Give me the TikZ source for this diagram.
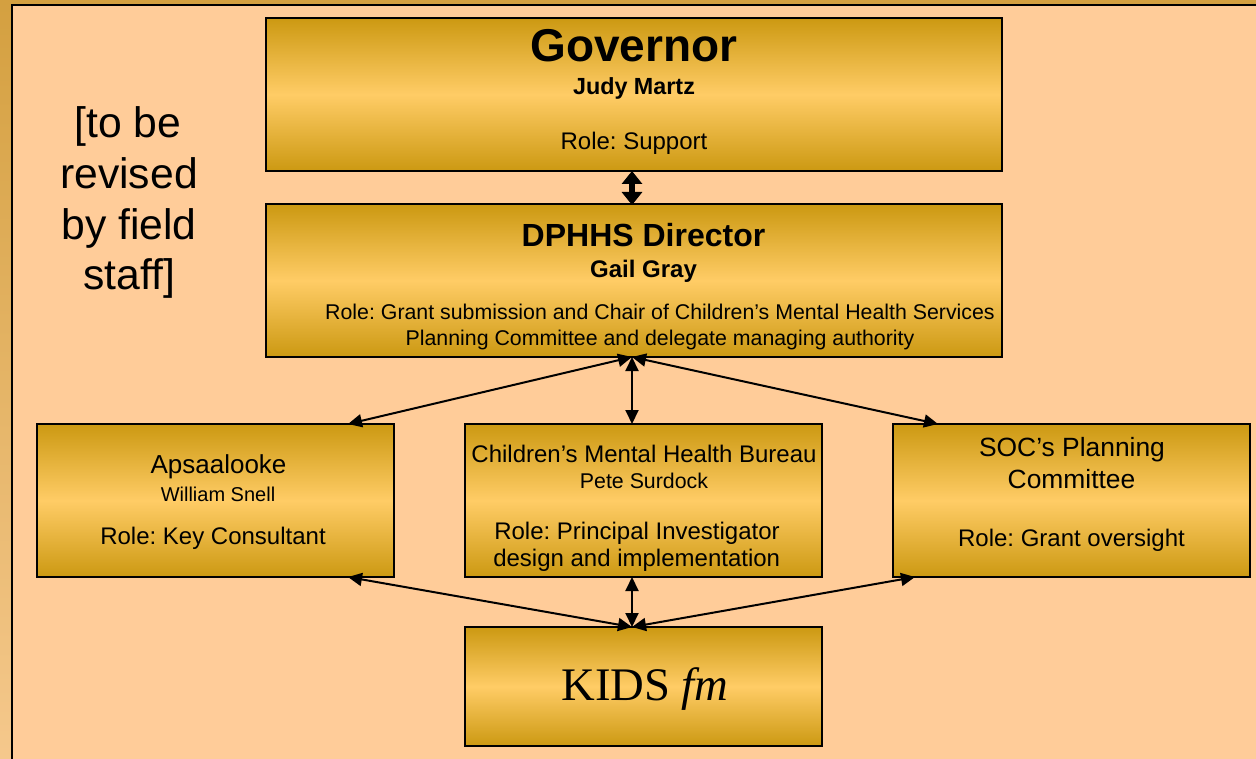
\documentclass[tikz,border=0pt]{standalone}
\usepackage{fontspec}
\setmainfont{Liberation Sans}
\newfontfamily\timesf{Liberation Serif}
\usetikzlibrary{arrows.meta}
\frenchspacing
\definecolor{bgpeach}{HTML}{FFCC99}
\definecolor{bandgold}{HTML}{D4A040}
\definecolor{bandlight}{HTML}{F5C88C}
\definecolor{golddark}{HTML}{CC9912}
\definecolor{goldlight}{HTML}{FFCC66}
\def\px{*0.75pt}
\newcommand{\fsz}[1]{\fontsize{#1}{#1}\selectfont}
\tikzset{
  box/.style={draw=black, line width=2\px, top color=golddark, bottom color=golddark, middle color=goldlight, inner sep=0pt, rectangle},
  txt/.style={anchor=base, inner sep=0pt, text=black},
  link/.style={line width=2\px, {Triangle[length=14\px,width=13\px]}-{Triangle[length=14\px,width=13\px]}},
  biglink/.style={line width=6\px, {Triangle[length=13\px,width=20\px]}-{Triangle[length=13\px,width=20\px]}}
}
\begin{document}
\frenchspacing
\begin{tikzpicture}[x=0.75pt,y=-0.75pt]
\useasboundingbox (0,0) rectangle (1256,759);
% background and frame
\fill[bgpeach] (0,0) rectangle (1256,759);
\shade[top color=bandgold, bottom color=bandlight] (0,0) rectangle (11,759);
\fill[bandgold] (0,0) rectangle (1256,5);
\draw[line width=2\px] (11.5,759) -- (11.5,5) -- (1256,5);

% boxes
\node[box, minimum width=736\px, minimum height=153\px] (gov) at (634,94.5) {};
\node[box, minimum width=736\px, minimum height=152\px] (dir) at (634,280.5) {};
\node[box, minimum width=357\px, minimum height=153\px] (aps) at (215.5,500.5) {};
\node[box, minimum width=357\px, minimum height=153\px] (cmh) at (643.5,500.5) {};
\node[box, minimum width=357\px, minimum height=153\px] (soc) at (1071,500.5) {};
\node[box, minimum width=357\px, minimum height=119\px] (kids) at (643.5,686.5) {};

% texts
\node[txt, font=\bfseries\fsz{34.5}] (t1) at (634,62) {Governor};
\node[txt, font=\bfseries\fsz{17.5}] (t2) at (634,95) {Judy Martz};
\node[txt, font=\fsz{18}] (t3) at (634,150) {Role: Support};

\node[txt, font=\bfseries\fsz{24}] (t4) at (643.5,247) {DPHHS Director};
\node[txt, font=\bfseries\fsz{18}] (t5) at (643.5,277) {Gail Gray};
\node[txt, font=\fsz{16}] (t6) at (660,320) {Role: Grant submission and Chair of Children’s Mental Health Services};
\node[txt, font=\fsz{16}] (t7) at (660,345) {Planning Committee and delegate managing authority};

\node[txt, font=\fsz{32}] (l1) at (128,138) {[to be};
\node[txt, font=\fsz{32}] (l2) at (129,189) {revised};
\node[txt, font=\fsz{32}] (l3) at (129,240) {by field};
\node[txt, font=\fsz{32}] (l4) at (129,290) {staff]};

\node[txt, font=\fsz{19.5}] (a1) at (218.5,473) {Apsaalooke};
\node[txt, font=\fsz{15}] (a2) at (218,501) {William Snell};
\node[txt, font=\fsz{18}] (a3) at (213,544) {Role: Key Consultant};

\node[txt, font=\fsz{18}] (c1) at (644,462) {Children’s Mental Health Bureau};
\node[txt, font=\fsz{16}] (c2) at (644,488) {Pete Surdock};
\node[txt, anchor=base west, font=\fsz{18}] (c3) at (494,539) {Role: Principal Investigator};
\node[txt, anchor=base west, font=\fsz{18}] (c4) at (493,566) {design and implementation};

\node[txt, font=\fsz{19.8}] (s1) at (1072,456) {SOC’s Planning};
\node[txt, font=\fsz{19.8}] (s2) at (1071.5,488) {Committee};
\node[txt, font=\fsz{18}] (s3) at (1071.5,546) {Role: Grant oversight};

\node[txt, font=\timesf\fsz{35}] (k1) at (645,700) {KIDS \textit{fm}};

% connector end points
\coordinate (dirS) at (632,357);
\coordinate (govS) at (632,171);
\coordinate (dirN) at (632,205);
\coordinate (apsNE) at (348,424);
\coordinate (socNW) at (938,424);
\coordinate (cmhN) at (632,424);
\coordinate (cmhS) at (632,577);
\coordinate (apsSE) at (348,577);
\coordinate (socSW) at (915,577);
\coordinate (kidsN) at (632,627);

% connectors
\draw[biglink] (govS) -- (dirN);
\draw[link] (dirS) -- (apsNE);
\draw[link] (dirS) -- (cmhN);
\draw[link] (dirS) -- (socNW);
\draw[link] (apsSE) -- (kidsN);
\draw[link] (cmhS) -- (kidsN);
\draw[link] (socSW) -- (kidsN);
\end{tikzpicture}
\end{document}
